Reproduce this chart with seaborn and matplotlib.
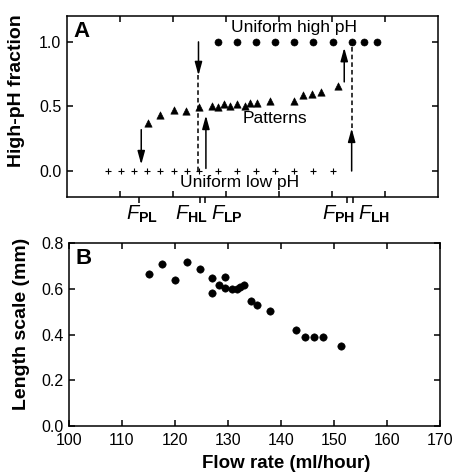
import numpy as np
import pandas as pd
import matplotlib
matplotlib.use("Agg")
import matplotlib.pyplot as plt
import matplotlib.transforms as mtransforms
import seaborn as sns

# Panel A: high-pH fraction vs flow rate
low_x = [107.7, 110.2, 112.7, 115.0, 117.5, 120.1, 122.6, 124.9, 128.5, 132.1,
         135.7, 139.2, 142.8, 146.5, 150.1]
low_y = [0.0] * len(low_x)
high_x = [128.5, 132.1, 135.7, 139.2, 142.8, 146.5, 150.1, 153.7, 156.0, 158.4]
high_y = [1.0] * len(high_x)
pat_x = [115.3, 117.5, 120.1, 122.5, 124.9, 127.3, 128.5, 129.6, 130.8, 132.1,
         133.6, 134.5, 135.8, 138.3, 142.9, 144.6, 146.2, 147.9, 151.2]
pat_y = [0.37, 0.43, 0.475, 0.467, 0.495, 0.50, 0.495, 0.515, 0.505, 0.52,
         0.50, 0.53, 0.53, 0.545, 0.54, 0.585, 0.60, 0.61, 0.66]

# critical flow rates (ticks under panel A)
f_pos = [113.5, 125.1, 126.1, 152.8, 154.0]
f_labels = [r'$\mathit{F}_{\mathbf{PL}}$', r'$\mathit{F}_{\mathbf{HL}}$',
            r'$\mathit{F}_{\mathbf{LP}}$', r'$\mathit{F}_{\mathbf{PH}}$',
            r'$\mathit{F}_{\mathbf{LH}}$']
f_label_x = [114.2, 123.4, 130.2, 151.3, 157.9]

# transition arrows (x, y start, y end) and dashed guide lines
arrows = [(114.0, 0.32, 0.05), (124.8, 1.0, 0.74), (126.2, 0.02, 0.43),
          (152.3, 0.69, 0.955), (153.7, 0.0, 0.33)]
dashes = [(124.8, 0.74, 0.0), (153.7, 0.33, 1.0)]

# Panel B: length scale vs flow rate
len_x = [115.2, 117.6, 120.0, 122.3, 124.7, 127.0, 127.0, 128.4, 129.5, 129.5,
         130.7, 131.8, 132.2, 133.1, 134.3, 135.5, 137.9, 142.8, 144.5, 146.2,
         147.9, 151.3]
len_y = [0.666, 0.71, 0.64, 0.717, 0.688, 0.647, 0.583, 0.616, 0.653, 0.605,
         0.599, 0.600, 0.610, 0.616, 0.548, 0.529, 0.504, 0.42, 0.388, 0.39,
         0.39, 0.351]

sns.set_style("ticks")
plt.rcParams['font.family'] = ['Liberation Sans', 'DejaVu Sans']
plt.rcParams['mathtext.fontset'] = 'custom'
plt.rcParams['mathtext.it'] = 'Liberation Sans:italic'
plt.rcParams['mathtext.bf'] = 'Liberation Sans:bold'
plt.rcParams['mathtext.rm'] = 'Liberation Sans'
plt.rcParams['axes.linewidth'] = 1.1
for key in ['axes.edgecolor', 'xtick.color', 'ytick.color', 'text.color',
            'axes.labelcolor']:
    plt.rcParams[key] = 'black'

fig = plt.figure(figsize=(4.53, 4.72), dpi=100)
ax_a = fig.add_axes([0.148, 0.583, 0.819, 0.383])
ax_b = fig.add_axes([0.152, 0.0975, 0.819, 0.3875])

# --- Panel A ---
sns.scatterplot(x=low_x, y=low_y, ax=ax_a, marker='+', color='k', s=16, linewidth=0.8)
sns.scatterplot(x=high_x, y=high_y, ax=ax_a, marker='o', color='k', s=26, edgecolor='k')
sns.scatterplot(x=pat_x, y=pat_y, ax=ax_a, marker='^', color='k', s=28, edgecolor='k')

for x, y0, y1 in arrows:
    ax_a.annotate('', xy=(x, y1), xytext=(x, y0),
                  arrowprops=dict(arrowstyle='-|>,head_length=0.8,head_width=0.22',
                                  lw=1.1, color='k', shrinkA=0, shrinkB=0))
for x, y0, y1 in dashes:
    ax_a.plot([x, x], [y0, y1], color='k', lw=1.1, dashes=(3, 2))

ax_a.set_xlim(100, 170)
ax_a.set_ylim(-0.2, 1.2)
ax_a.set_xticks([110, 120, 130, 140, 150, 160])
ax_a.set_xticklabels([])
ax_a.set_yticks([0.0, 0.5, 1.0])
ax_a.set_yticklabels(['0.0', '0.5', '1.0'])
ax_a.set_xticks(f_pos, minor=True)
ax_a.tick_params(axis='both', which='major', direction='in', length=4, width=1.1,
                 top=True, right=True, labelsize=11.5, pad=4)
ax_a.tick_params(axis='x', which='minor', direction='out', length=4, width=1.1,
                 bottom=True, top=False)
ax_a.set_ylabel('High-pH fraction', fontsize=14, fontweight='bold')
ax_a.yaxis.set_label_coords(-0.113, 0.585)

trans = mtransforms.blended_transform_factory(ax_a.transData, ax_a.transAxes)
for x, lab in zip(f_label_x, f_labels):
    ax_a.text(x, -0.04, lab, transform=trans, ha='center', va='top', fontsize=14.5)

ax_a.text(142.8, 1.11, 'Uniform high pH', ha='center', va='center', fontsize=12.5)
ax_a.text(139.2, 0.405, 'Patterns', ha='center', va='center', fontsize=12.5)
ax_a.text(132.6, -0.09, 'Uniform low pH', ha='center', va='center', fontsize=12.5)
ax_a.text(0.018, 0.975, 'A', transform=ax_a.transAxes, ha='left', va='top',
          fontsize=16, fontweight='bold')

# --- Panel B ---
sns.scatterplot(x=len_x, y=len_y, ax=ax_b, marker='o', color='k', s=28, edgecolor='k')
ax_b.set_xlim(100, 170)
ax_b.set_ylim(0, 0.8)
ax_b.set_xticks(np.arange(100, 171, 10))
ax_b.set_yticks([0.0, 0.2, 0.4, 0.6, 0.8])
ax_b.set_yticklabels(['0.0', '0.2', '0.4', '0.6', '0.8'])
ax_b.tick_params(axis='both', which='major', direction='in', length=4, width=1.1,
                 top=True, right=True, labelsize=11.5)
ax_b.tick_params(axis='x', pad=5)
ax_b.tick_params(axis='y', pad=4)
ax_b.set_xlabel('Flow rate (ml/hour)', fontsize=13.5, fontweight='bold')
ax_b.xaxis.set_label_coords(0.586, -0.16)
ax_b.set_ylabel('Length scale (mm)', fontsize=14, fontweight='bold')
ax_b.yaxis.set_label_coords(-0.105, 0.56)
ax_b.text(0.018, 0.975, 'B', transform=ax_b.transAxes, ha='left', va='top',
          fontsize=16, fontweight='bold')

fig.savefig('out.png', dpi=100)
plt.close(fig)
